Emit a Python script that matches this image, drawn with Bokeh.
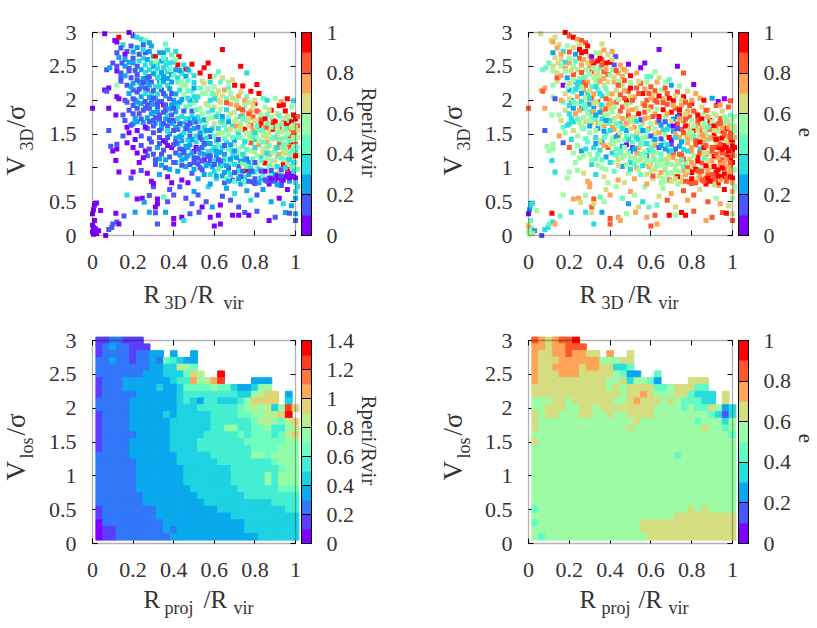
from math import pi
from bokeh.embed import file_html
from bokeh.layouts import column, row
from bokeh.models import BoxAnnotation, ColorBar, ColumnDataSource, FixedTicker, Label, LinearAxis, LinearColorMapper
from bokeh.plotting import figure
from bokeh.resources import INLINE

SERIF = "Liberation Serif"

# gnuplot rainbow palette, 10 and 14 levels
palette_10 = ["#8000ff", "#4757fb", "#0ea4f0", "#2adddd", "#63fbc3", "#9cfba4", "#d4dd80", "#ffa457", "#ff572c", "#ff0000"]
palette_14 = ["#8000ff", "#5a3dfd", "#3177f8", "#0aa9ee", "#1dd2e1", "#44eed2", "#6cfdbf", "#93fda9", "#baee91", "#e2d277",
              "#ffa95a", "#ff773d", "#ff3d1f", "#ff0000"]

r_ticks = [0, 0.2, 0.4, 0.6, 0.8, 1]
r_tick_labels = ["0", "0.2", "0.4", "0.6", "0.8", "1"]
v_ticks = [0, 0.5, 1, 1.5, 2, 2.5, 3]
v_tick_labels = ["0", "0.5", "1", "1.5", "2", "2.5", "3"]
bar_ticks_14 = [0, 0.2, 0.4, 0.6, 0.8, 1, 1.2, 1.4]
bar_labels_14 = ["0", "0.2", "0.4", "0.6", "0.8", "1", "1.2", "1.4"]

# satellites: (R3D/Rvir, V3D/sigma, Rperi/Rvir, e), by speed band
near_centre = [(.01,.45,.05,.35),(.02,.48,.05,.35),(.005,.38,.05,.3),(0,.32,.05,.05),(.04,.37,.05,.55),(.01,.22,.05,.45),
    (0,.15,.05,.65),(.005,.12,.05,.75),(.015,.1,.05,.45),(.01,.06,.05,.65),(.03,.07,.05,.25),(0,.05,.05,.55),(.02,.03,.05,.65),
    (.005,.02,.05,.55),(.065,0,.05,.15),(.08,.09,.15,.35),(.095,.12,.15,.35),(.1,.17,.15,.45),(.12,.2,.15,.35),(.115,.33,.05,.95),
    (.13,.17,.05,.75),(.155,.29,.15,.45)]
band_slow = [(.17,.6,.35,.55),(.22,.54,.05,.75),(.245,.55,.05,.75),(.255,.49,.25,.65),(.28,.59,.15,.55),(.3,.72,.15,.75),
    (.32,.54,.05,.85),(.31,.42,.05,.85),(.32,.47,.05,.65),(.28,.345,.25,.35),(.21,.345,.25,.35),(.32,.17,.15,.35),(.31,.335,.15,.65),
    (.36,.345,.25,.3),(.35,.57,.45,.45),(.37,.5,.15,.55),(.38,.68,.15,.65),(.4,.6,.15,.75),(.4,.17,.05,.85),(.4,.25,.05,.85),
    (.43,.72,.15,.55),(.44,.27,.05,.75),(.45,.22,.35,.75),(.46,.55,.15,.45),(.48,.32,.15,.55),(.49,.47,.15,.25),(.5,.65,.25,.75),
    (.52,.6,.15,.55),(.525,.345,.15,.75),(.54,.42,.05,.65),(.56,.5,.15,.35),(.57,.72,.35,.55),(.58,.27,.05,.75),(.59,.42,.25,.45),
    (.6,.14,.05,.85),(.62,.3,.05,.85),(.63,.17,.05,.75),(.63,.45,.05,.45),(.64,.58,.15,.65),(.66,.7,.25,.55),(.68,.52,.15,.85),
    (.69,.3,.05,.95),(.7,.62,.35,.75),(.72,.42,.15,.65),(.72,.3,.05,.55),(.75,.34,.15,.95),(.76,.66,.25,.85),(.77,.3,.05,.95),
    (.78,.52,.35,.75),(.81,.36,.15,.85),(.81,.6,.15,.85),(.84,.68,.25,.65),(.87,.22,.05,.75),(.88,.5,.25,.85),(.9,.27,.15,.85),
    (.92,.55,.05,.55),(.94,.47,.35,.75),(.95,.34,.25,.85),(.96,.68,.05,.95),(.97,.33,.15,.95),(.98,.44,.25,.65),(1,.22,.15,.85),
    (1,.32,.25,.65),(1,.55,.25,.55),(1,.65,.35,.75),(.93,.74,.15,.75)]
band_075 = [(.115,1.11,.05,.35),(.13,.94,.05,.35),(.2,.94,.05,.6),(.19,.85,.15,.55),(.23,1.08,.05,.55),(.24,.96,.15,.5),(.27,.92,.05,.65),
    (.29,.8,.05,.75),(.3,.77,.05,.75),(.31,1.05,.15,.35),(.33,.9,.25,.35),(.36,1,.15,.55),(.37,.87,.05,.65),(.39,.78,.05,.55),
    (.41,1.08,.25,.55),(.42,.95,.25,.45),(.44,.82,.05,.75),(.46,1.02,.25,.25),(.47,.78,.05,.65),(.49,.92,.15,.55),(.5,1.08,.15,.35),
    (.52,.84,.25,.75),(.53,1,.15,.75),(.55,.9,.25,.45),(.57,1.06,.25,.55),(.58,.76,.25,.75),(.6,.95,.35,.55),(.61,.84,.35,.65),
    (.63,1.03,.25,.45),(.64,.88,.25,.65),(.65,.78,.15,.55),(.67,.97,.35,.45),(.68,1.07,.45,.45),(.69,.82,.15,.85),(.71,.92,.45,.65),
    (.72,1.02,.15,.55),(.73,.76,.25,.55),(.75,.86,.35,.65),(.76,.96,.95,.75),(.77,1.08,.25,.55),(.79,.79,.15,.85),(.8,.93,.45,.95),
    (.81,1.03,.65,.75),(.83,.85,.25,.65),(.84,.97,.55,.45),(.85,1.07,.95,.85),(.87,.76,.05,.95),(.88,.9,.45,.85),(.89,1.01,.55,.65),
    (.9,.82,.05,.85),(.92,.94,.65,.95),(.93,.78,.15,.95),(.94,1.05,.95,.75),(.95,.87,.05,.95),(.96,.98,.95,.85),(.97,.8,.25,.85),
    (.98,.92,.05,.75),(.99,1.04,.65,.85),(1,.85,.05,.95),(1,.97,.55,.85),(.86,.8,.15,.85),(.91,.75,.25,.65)]
band_11 = [(.09,1.32,.15,.55),(.1,1.25,.05,.5),(.12,1.28,.05,.55),(.12,1.35,.15,.55),(.17,1.37,.05,.15),(.2,1.3,.05,.85),(.22,1.22,.05,.55),
    (.24,1.33,.15,.55),(.26,1.25,.05,.25),(.27,1.18,.15,.55),(.29,1.38,.15,.45),(.3,1.2,.15,.55),(.32,1.3,.25,.35),(.33,1.13,.25,.45),
    (.35,1.26,.15,.35),(.36,1.38,.15,.25),(.38,1.16,.15,.25),(.39,1.3,.05,.85),(.41,1.22,.15,.35),(.42,1.36,.25,.55),(.44,1.12,.25,.65),
    (.45,1.27,.15,.45),(.47,1.18,.25,.55),(.48,1.34,.25,.05),(.5,1.24,.05,.25),(.51,1.38,.35,.45),(.52,1.14,.15,.55),(.54,1.3,.15,.75),
    (.55,1.2,.25,.45),(.57,1.36,.25,.45),(.58,1.11,.15,.55),(.59,1.26,.35,.35),(.61,1.18,.25,.65),(.62,1.33,.45,.75),(.63,1.23,.25,.55),
    (.65,1.12,.35,.45),(.66,1.38,.35,.45),(.67,1.28,.45,.25),(.69,1.17,.35,.65),(.7,1.35,.55,.15),(.71,1.22,.45,.85),(.73,1.1,.25,.65),
    (.74,1.32,.45,.25),(.75,1.19,.55,.85),(.76,1.27,.45,.35),(.78,1.37,.85,.75),(.79,1.13,.45,.65),(.8,1.24,.65,.75),(.82,1.34,.75,.85),
    (.83,1.16,.35,.95),(.84,1.28,.55,.35),(.86,1.38,.75,.75),(.87,1.2,.25,.85),(.88,1.11,.55,.65),(.9,1.3,.65,.85),(.91,1.17,.45,.95),
    (.92,1.37,.85,.65),(.94,1.24,.55,.75),(.95,1.12,.35,.85),(.96,1.33,.65,.95),(.97,1.2,.45,.85),(.98,1.38,.95,.75),(.99,1.14,.55,.95),
    (1,1.26,.35,.95),(1,1.35,.85,.85),(1.01,1.18,.55,.65)]
band_14 = [(.08,1.55,.15,.15),(.15,1.47,.15,.75),(.17,1.6,.05,.45),(.18,1.52,.05,.55),(.2,1.65,.25,.35),(.21,1.42,.05,.35),(.22,1.55,.05,.65),
    (.24,1.47,.15,.55),(.25,1.67,.25,.55),(.27,1.58,.15,.45),(.28,1.43,.15,.45),(.3,1.52,.15,.55),(.31,1.66,.25,.65),(.33,1.45,.15,.35),
    (.34,1.58,.25,.25),(.35,1.4,.05,.65),(.37,1.62,.15,.75),(.38,1.5,.25,.45),(.4,1.68,.25,.55),(.41,1.44,.25,.55),(.42,1.57,.15,.75),
    (.44,1.48,.25,.85),(.45,1.65,.25,.35),(.47,1.41,.35,.55),(.48,1.55,.25,.25),(.49,1.67,.35,.65),(.51,1.47,.35,.45),(.52,1.6,.15,.75),
    (.54,1.42,.25,.35),(.55,1.53,.45,.55),(.56,1.66,.55,.65),(.58,1.46,.15,.45),(.59,1.58,.35,.75),(.61,1.4,.35,.55),(.62,1.5,.65,.65),
    (.63,1.67,.45,.75),(.65,1.43,.45,.15),(.66,1.56,.45,.35),(.67,1.49,.55,.55),(.69,1.62,.35,.25),(.7,1.41,.25,.05),(.71,1.54,.55,.25),
    (.73,1.65,.65,.85),(.74,1.45,.55,.75),(.75,1.57,.95,.85),(.77,1.49,.65,.65),(.78,1.63,.85,.75),(.8,1.42,.35,.55),(.81,1.55,.55,.95),
    (.83,1.66,.95,.85),(.84,1.47,.65,.65),(.85,1.6,.75,.75),(.87,1.52,.65,.55),(.88,1.42,.55,.45),(.89,1.65,.95,.85),(.91,1.5,.45,.95),
    (.92,1.58,.85,.75),(.93,1.43,.65,.85),(.95,1.54,.55,.95),(.96,1.65,.95,.65),(.97,1.46,.85,.75),(.98,1.56,.55,.55),(.99,1.42,.45,.95),
    (1,1.5,.75,.45),(1.01,1.62,.85,.55)]
band_17 = [(0,1.88,.05,.85),(.08,1.88,.05,.75),(.115,1.78,.05,.55),(.15,1.78,.15,.55),(.17,1.97,.15,.45),(.18,1.85,.15,.65),(.2,1.92,.15,.35),
    (.21,1.73,.25,.35),(.23,1.8,.15,.75),(.24,1.95,.25,.55),(.26,1.88,.15,.25),(.27,1.74,.25,.55),(.29,1.96,.15,.65),(.3,1.82,.25,.35),
    (.32,1.9,.15,.25),(.33,1.72,.15,.45),(.34,1.98,.15,.85),(.36,1.85,.15,.75),(.37,1.77,.35,.65),(.39,1.93,.25,.75),(.4,1.7,.15,.35),
    (.41,1.83,.25,.55),(.43,1.97,.25,.85),(.44,1.76,.35,.65),(.46,1.9,.45,.85),(.47,1.72,.25,.55),(.49,1.84,.15,.75),(.5,1.96,.55,.55),
    (.52,1.75,.35,.65),(.53,1.88,.55,.65),(.55,1.71,.25,.15),(.56,1.95,.65,.75),(.57,1.82,.45,.85),(.59,1.74,.55,.65),(.6,1.9,.65,.85),
    (.62,1.8,.45,.75),(.63,1.97,.65,.85),(.64,1.7,.35,.15),(.66,1.86,.35,.95),(.67,1.75,.45,.55),(.68,1.94,.75,.85),(.7,1.82,.55,.95),
    (.71,1.72,.65,.25),(.72,1.88,.85,.85),(.74,1.78,.75,.95),(.75,1.92,.55,.75),(.76,1.7,.45,.85),(.78,1.84,.75,.75),(.79,1.75,.85,.85),
    (.8,1.95,.95,.95),(.82,1.82,.75,.65),(.83,1.72,.85,.85),(.85,1.9,.55,.65),(.86,1.78,.45,.55),(.88,1.85,.95,.75),(.89,1.7,.85,.95),
    (.91,1.8,.65,.55),(.92,1.92,.95,.85),(.94,1.73,.55,.85),(.95,1.84,.95,.65),(.97,1.7,.45,.45),(.98,1.9,.55,.85),(.99,1.78,.95,.45),
    (1,1.72,.95,.55),(.93,1.98,.75,.05)]
band_20 = [(.06,2.15,.05,.65),(.08,2.18,.05,.75),(.07,2.13,.15,.85),(.12,2.05,.05,.55),(.14,2.28,.15,.65),(.12,2.22,.55,.55),(.13,2.02,.05,.15),
    (.16,2,.15,.75),(.17,2.22,.15,.05),(.2,2.15,.15,.25),(.2,2.25,.25,.65),(.22,2.12,.15,.45),(.24,2.2,.25,.35),(.24,2.05,.25,.75),
    (.27,2.27,.25,.85),(.27,2.15,.15,.75),(.29,2.1,.35,.35),(.31,2.2,.35,.45),(.31,2.03,.25,.85),(.33,2.28,.25,.55),(.34,2.15,.15,.45),
    (.36,2.06,.25,.35),(.37,2.22,.35,.65),(.39,2.1,.15,.55),(.4,2,.25,.75),(.42,2.27,.45,.75),(.43,2.15,.35,.65),(.45,2.08,.55,.85),
    (.46,2.22,.55,.65),(.48,2,.25,.95),(.49,2.13,.45,.85),(.5,2.26,.35,.55),(.52,2.05,.35,.75),(.53,2.18,.45,.85),(.55,2.25,.65,.85),
    (.56,2.1,.55,.95),(.58,2,.35,.85),(.6,2.2,.55,.85),(.61,2.08,.65,.65),(.63,2.27,.45,.75),(.65,2.15,.75,.55),(.66,2.02,.45,.75),
    (.68,2.1,.55,.85),(.7,2.22,.95,.25),(.71,2,.55,.95),(.73,2.12,.65,.85),(.74,2.21,.95,.55),(.76,2.05,.45,.95),(.78,2.13,.95,.7),
    (.8,2,.65,.75),(.81,2.23,.95,.05),(.82,2.1,.95,.75),(.84,2.03,.45,.75),(.9,2.03,.55,.25),(.96,2.02,.95,.05),(.99,1.99,.35,.85),
    (.86,2,.35,.95),(.75,2,.75,.65),(.58,2.27,.35,.55),(.62,2,.65,.85),(.94,1.93,.95,.75)]
band_23 = [(.64,2.75,.95,.05),(.73,2.5,.95,.05),(.57,2.55,.95,.05),(.55,2.48,.95,.05),(.49,2.53,.95,.05),(.42,2.52,.95,.15),(.46,2.46,.95,.65),
    (.58,2.35,.95,.45),(.76,2.4,.35,.85),(.53,2.4,.95,.75),(.62,2.42,.45,.55),(.6,2.35,.55,.45),(.64,2.33,.65,.65),(.67,2.27,.55,.55),
    (.69,2.3,.65,.45),(.07,2.45,.15,.45),(.085,2.48,.25,.45),(.1,2.55,.15,.45),(.12,2.5,.15,.65),(.12,2.43,.05,.55),(.14,2.4,.15,.65),
    (.14,2.33,.15,.85),(.16,2.5,.25,.55),(.18,2.47,.15,.75),(.2,2.55,.25,.75),(.22,2.5,.15,.55),(.24,2.45,.25,.65),(.26,2.52,.35,.75),
    (.28,2.45,.35,.55),(.3,2.5,.25,.75),(.31,2.42,.45,.85),(.33,2.35,.45,.65),(.35,2.48,.35,.45),(.37,2.42,.35,.85),(.39,2.38,.25,.85),
    (.35,2.35,.25,.55),(.41,2.45,.25,.55),(.44,2.4,.35,.75),(.46,2.35,.25,.75),(.48,2.42,.45,.65),(.5,2.36,.35,.95),(.28,2.35,.15,.55),
    (.25,2.32,.25,.55),(.22,2.38,.15,.85),(.19,2.33,.15,.25),(.16,2.36,.25,.75),(.32,2.33,.35,.55)]
band_26 = [(.06,2.98,.05,.65),(.18,3,.05,.95),(.13,2.93,.95,.65),(.11,2.88,.05,.65),(.12,2.86,.05,.75),(.2,2.95,.15,.85),(.22,2.93,.35,.95),
    (.24,2.9,.35,.75),(.26,2.88,.45,.85),(.28,2.85,.25,.85),(.29,2.8,.25,.95),(.25,2.82,.15,.65),(.22,2.78,.25,.65),(.28,2.72,.25,.95),
    (.26,2.7,.15,.95),(.25,2.62,.35,.85),(.3,2.65,.25,.75),(.19,2.8,.15,.55),(.17,2.72,.15,.35),(.15,2.82,.35,.7),(.12,2.7,.15,.25),
    (.13,2.63,.25,.65),(.16,2.6,.25,.65),(.2,2.62,.15,.55),(.23,2.68,.15,.25),(.36,2.83,.45,.65),(.41,2.72,.35,.75),(.43,2.65,.35,.75),
    (.39,2.67,.45,.65),(.35,2.7,.25,.65),(.31,2.64,.95,.05),(.425,2.64,.95,.15),(.38,2.55,.35,.9),(.36,2.6,.35,.85),(.34,2.58,.25,.95),
    (.32,2.55,.35,.95)]
crowd_upper = [(.14,2.77,.15,.75),(.145,2.55,.15,.65),(.16,2.68,.05,.75),(.18,2.56,.25,.35),(.18,2.43,.15,.55),(.2,2.71,.25,.85),(.21,2.44,.15,.65),
    (.23,2.58,.35,.45),(.23,2.27,.25,.35),(.25,2.75,.35,.95),(.26,2.41,.35,.85),(.27,2.6,.25,.75),(.27,2.33,.15,.45),(.29,2.55,.35,.65),
    (.29,2.27,.15,.75),(.3,2.39,.25,.55),(.31,2.58,.55,.85),(.32,2.47,.35,.6),(.33,2.7,.25,.55),(.34,2.41,.25,.65),(.34,2.26,.45,.55),
    (.35,2.62,.45,.9),(.36,2.52,.35,.85),(.37,2.32,.25,.75),(.37,2.74,.35,.75),(.38,2.46,.45,.75),(.39,2.27,.25,.65),(.4,2.56,.35,.95),
    (.4,2.37,.45,.55),(.41,2.6,.55,.7),(.42,2.33,.35,.65),(.43,2.44,.25,.85),(.44,2.28,.55,.55),(.45,2.52,.35,.75),(.47,2.29,.45,.85),
    (.47,2.45,.25,.75),(.18,2.1,.25,.65),(.19,2.2,.25,.55),(.21,2,.15,.25),(.22,1.97,.25,.45),(.23,2.16,.15,.35),(.26,2.1,.35,.25),
    (.26,1.98,.15,.35),(.28,2.22,.25,.85),(.28,2.04,.25,.55),(.3,2.14,.15,.65),(.3,1.94,.25,.25),(.32,2.09,.35,.75),(.33,2.2,.35,.35),
    (.33,1.98,.15,.55),(.35,2.28,.25,.75),(.35,2.1,.15,.35),(.38,2.17,.25,.45),(.38,2.02,.15,.85),(.41,2.09,.25,.75),(.41,1.95,.25,.75),
    (.44,2.22,.55,.85),(.44,2.01,.25,.55),(.47,2.14,.45,.75),(.47,2.03,.35,.85),(.5,2.18,.25,.95),(.5,2.05,.35,.65),(.51,2,.35,.85),
    (.54,2.1,.55,.85),(.54,2.28,.65,.65),(.57,2.17,.55,.75),(.59,2.1,.45,.85),(.6,2.02,.35,.75),(.62,2.14,.65,.85),(.64,2.06,.65,.95),
    (.67,2.18,.45,.85),(.69,2.03,.65,.9),(.72,2.06,.75,.65),(.77,1.97,.65,.85)]
crowd_middle = [(.16,1.7,.15,.65),(.19,1.63,.15,.35),(.2,1.8,.15,.35),(.22,1.88,.15,.3),(.22,1.68,.25,.35),(.24,1.72,.15,.45),(.25,1.85,.15,.75),
    (.26,1.6,.05,.55),(.27,1.93,.15,.45),(.28,1.68,.15,.65),(.29,1.8,.25,.55),(.3,1.62,.15,.3),(.31,1.74,.15,.45),(.32,1.83,.25,.75),
    (.33,1.55,.15,.55),(.34,1.66,.25,.75),(.35,1.82,.15,.25),(.35,1.93,.05,.65),(.36,1.72,.25,.35),(.37,1.54,.35,.25),(.38,1.87,.25,.85),
    (.39,1.66,.25,.45),(.39,1.78,.15,.55),(.41,1.6,.25,.75),(.42,1.73,.35,.65),(.42,1.9,.35,.55),(.43,1.46,.25,.25),(.44,1.62,.45,.55),
    (.45,1.84,.15,.85),(.45,1.52,.35,.55),(.46,1.73,.35,.75),(.47,1.63,.15,.65),(.48,1.93,.45,.65),(.48,1.47,.15,.45),(.49,1.77,.35,.85),
    (.5,1.58,.25,.65),(.51,1.68,.15,.55),(.51,1.86,.45,.75),(.53,1.52,.25,.65),(.53,1.69,.35,.35),(.54,1.8,.55,.95),(.55,1.6,.35,.45),
    (.56,1.44,.35,.55),(.57,1.73,.55,.75),(.57,1.92,.55,.85),(.58,1.55,.25,.45),(.59,1.85,.35,.65),(.6,1.65,.65,.55),(.6,1.47,.45,.15),
    (.61,1.76,.35,.85),(.62,1.58,.35,.55),(.63,1.87,.55,.55),(.64,1.52,.55,.75),(.64,1.76,.25,.95),(.65,1.63,.45,.25),(.66,1.96,.85,.85),
    (.67,1.68,.25,.15),(.68,1.57,.65,.35),(.68,1.8,.65,.75),(.69,1.45,.45,.95),(.7,1.69,.55,.65),(.71,1.92,.75,.75),(.71,1.62,.75,.05),
    (.72,1.5,.35,.75),(.73,1.76,.35,.15),(.73,1.58,.65,.15),(.74,1.86,.85,.95),(.75,1.72,.55,.65),(.76,1.52,.55,.85),(.77,1.8,.85,.65),
    (.77,1.62,.65,.95),(.78,1.44,.55,.75),(.79,1.92,.65,.85),(.79,1.56,.75,.65),(.8,1.7,.65,.55),(.81,1.84,.85,.85),(.81,1.47,.55,.45),
    (.82,1.62,.95,.75),(.83,1.78,.55,.95),(.84,1.55,.45,.85),(.85,1.72,.95,.95),(.86,1.46,.65,.75),(.86,1.6,.85,.65),(.87,1.85,.65,.85),
    (.88,1.75,.55,.75),(.89,1.57,.95,.85),(.9,1.44,.75,.85),(.9,1.68,.95,.55),(.91,1.62,.55,.95),(.92,1.77,.45,.65),(.93,1.53,.65,.55),
    (.94,1.66,.95,.85),(.95,1.44,.45,.95),(.96,1.76,.65,.55),(.97,1.58,.75,.95),(.98,1.68,.95,.65),(.99,1.52,.85,.85),(.99,1.63,.55,.45),
    (1,1.42,.55,.95),(1.01,1.55,.65,.55),(1.01,1.76,.85,.6)]
crowd_lower = [(.25,1.15,.05,.55),(.28,1.28,.15,.35),(.31,1.12,.15,.55),(.33,1.36,.15,.25),(.34,1.2,.15,.45),(.34,1.04,.25,.55),(.36,1.12,.25,.45),
    (.37,1.33,.05,.75),(.38,.98,.25,.55),(.4,1.08,.15,.35),(.4,1.34,.15,.65),(.43,1.19,.25,.45),(.43,1.28,.15,.45),(.44,1.04,.15,.65),
    (.46,1.14,.25,.55),(.46,1.32,.25,.25),(.48,1.05,.15,.55),(.49,1.22,.25,.55),(.5,.98,.25,.35),(.51,1.3,.05,.15),(.52,1.06,.15,.45),
    (.53,1.22,.25,.75),(.54,.97,.15,.55),(.55,1.12,.05,.65),(.55,1.34,.25,.65),(.56,1.03,.25,.35),(.57,1.24,.35,.55),(.58,.9,.35,.65),
    (.58,1.18,.15,.25),(.59,1.02,.25,.75),(.6,1.3,.35,.45),(.6,1.1,.35,.55),(.61,.88,.25,.85),(.62,.98,.45,.65),(.62,1.12,.15,.45),
    (.64,1.3,.35,.15),(.64,1.05,.35,.55),(.65,.93,.25,.75),(.65,1.2,.25,.45),(.66,.84,.45,.55),(.67,1.12,.45,.65),(.67,1,.15,.65),
    (.68,.9,.35,.55),(.68,1.34,.25,.35),(.69,1.25,.35,.25),(.7,1.05,.35,.55),(.7,.8,.45,.65),(.71,1.15,.25,.75),(.72,.96,.35,.55),
    (.72,1.28,.55,.15),(.73,.87,.15,.95),(.74,1.06,.55,.65),(.74,1.2,.35,.85),(.75,.79,.45,.65),(.76,1.13,.15,.85),(.76,1.02,.45,.45),
    (.77,.9,.25,.75),(.78,1.25,.55,.35),(.78,1,.35,.85),(.79,.95,.25,.95),(.8,1.08,.15,.75),(.8,.84,.15,.95),(.81,1.18,.55,.55),
    (.82,.78,.25,.85),(.82,.98,.35,.95),(.83,1.1,.45,.95),(.84,.88,.45,.75),(.84,1.22,.65,.85),(.85,.95,.05,.85),(.86,1.15,.55,.45),
    (.86,1.3,.65,.95),(.87,.85,.15,.85),(.87,1.03,.45,.95),(.88,.96,.15,.75),(.88,1.22,.65,.65),(.89,.8,.15,.95),(.9,1.1,.65,.75),
    (.9,.9,.25,.85),(.91,1.02,.35,.95),(.92,.85,.05,.85),(.92,1.2,.75,.85),(.93,.97,.15,.95),(.93,1.3,.65,.95),(.94,1.12,.55,.85),
    (.94,.82,.05,.75),(.95,1,.35,.95),(.95,1.22,.65,.85),(.96,.9,.05,.95),(.96,1.08,.65,.75),(.97,.85,.05,.85),(.97,1.3,.85,.95),
    (.98,1.02,.45,.75),(.98,1.16,.65,.95),(.99,.87,.05,.95),(.99,.95,.35,.75),(.99,1.27,.55,.85),(1,1.08,.55,.95),(1,1.18,.95,.85),
    (1.01,.98,.45,.55),(1.01,1.3,.55,.95),(1.01,.72,.35,.55),(1,.78,.35,.75)]
crowd_right = [(.72,1.45,.45,.35),(.74,1.72,.45,.75),(.76,1.4,.55,.55),(.77,1.72,.65,.85),(.79,1.48,.45,.65),(.8,1.3,.35,.75),(.81,1.62,.45,.55),
    (.82,1.4,.55,.85),(.83,1.55,.45,.65),(.84,1.38,.45,.95),(.85,1.5,.55,.75),(.86,1.66,.45,.55),(.87,1.33,.45,.85),(.88,1.6,.55,.45),
    (.89,1.45,.45,.75),(.9,1.25,.45,.85),(.91,1.55,.55,.65),(.92,1.42,.45,.95),(.93,1.65,.55,.85),(.93,1.15,.45,.75),(.94,1.35,.45,.85),
    (.95,1.58,.45,.75),(.95,1.28,.55,.95),(.96,1.5,.55,.85),(.97,1.12,.35,.75),(.97,1.4,.45,.65),(.98,1.6,.55,.75),(.98,1.25,.45,.95),
    (.99,1.45,.55,.85),(.99,1.08,.35,.85),(1,1.6,.65,.65),(1,1.32,.45,.95),(1.01,1.45,.55,.75),(.91,1.3,.35,.85),(.86,1.22,.35,.65),
    (.8,1.52,.35,.55),(.75,1.38,.35,.25)]
crowd_left = [(.2,2.02,.15,.65),(.22,2.3,.15,.55),(.25,2.26,.15,.35),(.26,2.18,.15,.55),(.28,1.88,.15,.45),(.3,2.03,.15,.35),(.3,1.7,.15,.55),
    (.32,1.95,.15,.65),(.33,1.78,.15,.25),(.35,1.65,.15,.55),(.36,1.93,.15,.35),(.37,1.45,.15,.45),(.38,1.7,.15,.25),(.4,1.88,.15,.65),
    (.4,1.55,.15,.35),(.41,1.38,.15,.55),(.43,1.65,.15,.45),(.44,1.4,.25,.55),(.45,1.22,.15,.45),(.46,1.58,.15,.35),(.47,1.3,.25,.55),
    (.48,1.66,.15,.75),(.49,1.42,.25,.35),(.5,1.15,.15,.55),(.5,1.72,.25,.65),(.52,1.28,.15,.25),(.53,1.45,.15,.35),(.54,1.1,.15,.55),
    (.55,1.36,.15,.45),(.56,1.55,.25,.25),(.57,1.17,.15,.55),(.58,1.36,.25,.35),(.6,1.05,.15,.65),(.61,1.25,.25,.45),(.62,1.42,.15,.25),
    (.63,1.1,.15,.55),(.65,1.33,.15,.25),(.66,1.03,.25,.55),(.67,.8,.25,.55),(.68,1.13,.25,.65),(.7,.93,.15,.55),(.7,1.25,.25,.35),
    (.72,.84,.25,.65),(.74,.95,.15,.55),(.75,1.12,.25,.45),(.77,.8,.15,.85),(.78,.95,.15,.65),(.8,.77,.15,.85),(.83,.95,.15,.85),
    (.85,.82,.15,.85),(.88,.84,.05,.95),(.91,.88,.05,.85),(.93,.88,.15,.95)]
satellites = (near_centre + band_slow + band_075 + band_11 + band_14 + band_17 + band_20 + band_23 + band_26
              + crowd_upper + crowd_middle + crowd_lower + crowd_right + crowd_left)
r_3d = [s[0] for s in satellites]
v_3d = [s[1] for s in satellites]
rperi_3d = [s[2] for s in satellites]
ecc_3d = [s[3] for s in satellites]

# binned maps, top row is V=3.0, bottom V=0.1; one character per cell = colour level, "." is empty
rperi_rows = ["1122111",
    "12322111",
    "1222212233.3..3",
    "223221223265433",
    "222222223344876",
    "2222222333444698..d",
    "12223333333455a78ac....333",
    "12223333343346666766433477",
    "122222333333455555555447899.3.",
    "222223333333454355444579999.4.",
    "222223333333444555555678784" + "7c9",
    "122223333343444445555667788" + "9d.",
    "122223333334444445555556887689",
    "122223333334444445577556675578",
    "122222333334444455555656665689",
    "122223333334444555555566666677",
    "122223333334444555555556666777",
    "222223333333444445555557767777",
    "222222333333444444555555556777",
    "222222333333344444445555555677",
    "222222333333344444445555575777",
    "222222333333344444445555575777",
    "222222333333334444444555555666",
    "222222233333333444444455555555",
    "222222233333333344444444445555",
    "122222222333333333444444444455",
    "122222222333333333334444444444",
    "022222222233333333333344444444",
    "011222222232333333333344444444",
    "011222222223333333333333444444"]
ecc_rows = ["8767889",
    "77677888",
    "7667787766.7..6",
    "766677777755566",
    "766777767766334",
    "7666777666665422..4",
    "7666666666655635542....666",
    "66666666666565666644566644",
    "666666666666656676555664333.6.",
    "555665666666556766656544433.6.",
    "556665566566666666555545446523",
    "656655566556556666" + "555555554313",
    "655555555555555655555555455535",
    "655555555555556555555555565545",
    "555555555555555555555555555554",
    "655555555555555555555555555555",
    "555555555555555555555555555555",
    "555555555555555555555455555555",
    "555555555555555555555555555555",
    "555555555555555555555555555555",
    "555555555555555555555555555555",
    "555555555555555555555555555555",
    "555555555555555555555555555555",
    "555555555555555555555555555555",
    "555555555555555555555555555555",
    "455555555555555555555556565555",
    "555555555555555555555666666666",
    "455555555555555566666666666666",
    "555555555555555566666666666666",
    "545555555555555556666666666666"]


def binned(rows):
    xs, ys, vals = [], [], []
    for j, cells in enumerate(rows):
        for k, c in enumerate(cells[:30]):
            if c != ".":
                xs.append((k + 1) / 30)
                ys.append(3.0 - j * 0.1)
                vals.append((int(c, 16) + 0.5) * 0.1)
    return ColumnDataSource(dict(x=xs, y=ys, v=vals))


def text(p, s, x, y, size, angle=0.0, align="left", baseline="alphabetic"):
    # x, y are page pixels of the anchor; the frame fills the whole figure
    left, bottom = p.tags
    # Label puts an alphabetic baseline a bit low, pull it back
    if baseline == "alphabetic":
        if angle:
            x -= 0.32 * size
        else:
            y -= 0.32 * size
    p.add_layout(Label(x=x - left, y=bottom - y, x_units="screen", y_units="screen", text=s, angle=angle,
                       text_font=SERIF, text_font_size="%dpx" % size, text_color="#333333",
                       text_align=align, text_baseline=baseline))


def panel(left, top, w, h, x0, x1, y3, y0, mapper, bar_ticks, bar_labels):
    # frame covers the figure, so ticks, labels and points past the box are not clipped
    sx = x1 - x0
    sy = (y0 - y3) / 3
    p = figure(frame_width=w, frame_height=h, min_border=0,
               x_range=((left - x0) / sx, (left + w - x0) / sx), y_range=((y0 - top - h) / sy, (y0 - top) / sy),
               toolbar_location=None, output_backend="svg", outline_line_color=None, tags=[left, top + h])
    p.grid.visible = False
    bottom_ax = p.below[0]
    left_ax = p.left[0]
    bottom_ax.fixed_location = 0
    left_ax.fixed_location = 0
    bottom_ax.ticker = FixedTicker(ticks=r_ticks)
    left_ax.ticker = FixedTicker(ticks=v_ticks)
    bottom_ax.major_label_overrides = dict(zip(r_ticks, r_tick_labels))
    left_ax.major_label_overrides = dict(zip(v_ticks, v_tick_labels))
    bottom_ax.major_label_standoff = 19
    left_ax.major_label_standoff = 16

    top_ax = LinearAxis(fixed_location=3, ticker=FixedTicker(ticks=r_ticks), major_label_overrides={t: "" for t in r_ticks})
    right_ax = LinearAxis(fixed_location=1, ticker=FixedTicker(ticks=v_ticks), major_label_overrides={t: "" for t in v_ticks})
    p.add_layout(top_ax, "above")
    p.add_layout(right_ax, "right")
    for ax in [bottom_ax, left_ax, top_ax, right_ax]:
        ax.major_tick_in = 5
        ax.major_tick_out = 0
        ax.minor_tick_line_color = None
        ax.axis_line_color = None
        ax.major_tick_line_color = "black"
        ax.major_label_text_font = SERIF
        ax.major_label_text_font_size = "22px"
        ax.major_label_text_color = "#333333"
        ax.level = "underlay"

    p.add_layout(BoxAnnotation(left=0, right=1, bottom=0, top=3, fill_alpha=0, line_color="black", line_width=1.3))
    bar = ColorBar(color_mapper=mapper, location=(x1 + 6 - left, top + h - y0), width=10, height=y0 - y3, padding=0, margin=0,
                   ticker=FixedTicker(ticks=bar_ticks), major_label_overrides=dict(zip(bar_ticks, bar_labels)),
                   major_tick_in=10, major_tick_line_color="black", bar_line_color="black", minor_tick_line_color=None,
                   label_standoff=15, major_label_text_font=SERIF, major_label_text_font_size="22px",
                   major_label_text_color="#333333", background_fill_color=None, border_line_color=None)
    p.add_layout(bar)
    return p


def scatter(p, vals, mapper):
    src = ColumnDataSource(dict(x=r_3d, y=v_3d, v=vals))
    p.scatter("x", "y", source=src, marker="square", size=5, line_color=None,
              fill_color=dict(field="v", transform=mapper))


def heat(p, rows, mapper):
    tr = dict(field="v", transform=mapper)
    p.rect("x", "y", width=1 / 30, height=0.1, source=binned(rows), fill_color=tr, line_color=tr, line_width=1)


mapper_10 = LinearColorMapper(palette=palette_10, low=0, high=1)
mapper_14 = LinearColorMapper(palette=palette_14, low=0, high=1.4)

p1 = panel(0, 0, 425, 319, 92, 295, 32, 235, mapper_10, r_ticks, r_tick_labels)
p2 = panel(425, 0, 392, 319, 528, 732, 32, 235, mapper_10, r_ticks, r_tick_labels)
p3 = panel(0, 319, 425, 309, 92, 295, 340, 543, mapper_14, bar_ticks_14, bar_labels_14)
p4 = panel(425, 319, 392, 309, 528, 732, 340, 543, mapper_10, r_ticks, r_tick_labels)

scatter(p1, rperi_3d, mapper_10)
scatter(p2, ecc_3d, mapper_10)
heat(p3, rperi_rows, mapper_14)
heat(p4, ecc_rows, mapper_10)

# axis titles with their subscripts
for p, dy, sub, xs, ss, xr, xv in [
    (p1, 0, "3D", 143, 164, 190, 223),
    (p2, 0, "3D", 579, 601, 628, 658),
    (p3, 305, "proj", 143, 164, 203, 233),
    (p4, 305, "proj", 579, 601, 638, 668),
]:
    text(p, "R", xs, 302 + dy, 25)
    text(p, sub, ss, 308 + dy, 18)
    text(p, "/R", xr, 302 + dy, 25)
    text(p, "vir", xv, 308 + dy, 18)

for p, dx, dy, sub, y_sub, y_sig in [
    (p1, 0, 0, "3D", 150, 127),
    (p2, 437, 0, "3D", 150, 127),
    (p3, 0, 305, "los", 153, 130),
    (p4, 437, 305, "los", 153, 130),
]:
    text(p, "V", 24 + dx, 175 + dy, 27, angle=pi / 2)
    text(p, sub, 32 + dx, y_sub + dy, 18, angle=pi / 2)
    text(p, "/σ", 24 + dx, y_sig + dy, 27, angle=pi / 2)

text(p1, "Rperi/Rvir", 368, 132, 21, angle=-pi / 2, align="center", baseline="middle")
text(p2, "e", 805, 132, 21, angle=-pi / 2, align="center", baseline="middle")
text(p3, "Rperi/Rvir", 368, 440, 21, angle=-pi / 2, align="center", baseline="middle")
text(p4, "e", 805, 438, 21, angle=-pi / 2, align="center", baseline="middle")

page = column(row(p1, p2, spacing=0), row(p3, p4, spacing=0), spacing=0)
open("out.html", "w").write(file_html(page, INLINE))
